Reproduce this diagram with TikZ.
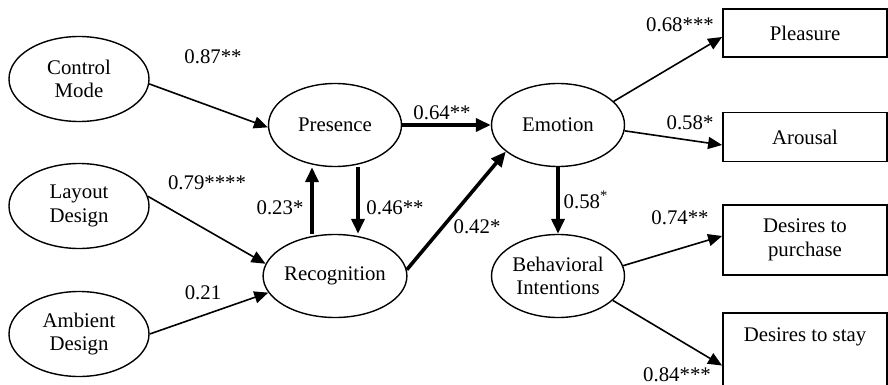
\documentclass[tikz,border=0pt]{standalone}
\usepackage{fontspec}
\setmainfont{Liberation Serif}
\usetikzlibrary{
  arrows.meta,
  shapes.geometric
}

\begin{document}
\begin{tikzpicture}[x=0.5pt, y=-0.5pt,
  font=\fontsize{10.4}{11.7}\selectfont,
  latent/.style={ellipse, draw, line width=0.7pt, inner sep=0pt,
    minimum width=66.5pt, minimum height=41.5pt, align=center},
  cause/.style={latent, minimum width=70pt, minimum height=42.5pt},
  measure/.style={rectangle, draw, line width=0.9pt,
    minimum width=82pt, minimum height=35pt, align=center},
  thinpath/.style={line width=0.8pt, -{Triangle[length=7pt, width=6pt]}},
  thickpath/.style={line width=1.8pt, -{Triangle[length=7.5pt, width=6.5pt]}},
  coef/.style={inner sep=0pt}]
  \useasboundingbox (0,0) rectangle (888,385);

  % Antecedents
  \node[cause] (ctrl) at (79, 79) {Control\\Mode};
  \node[cause] (layout) at (79, 206) {Layout\\Design};
  \node[cause] (ambient) at (79, 334) {Ambient\\Design};

  % Mediators
  \node[latent] (presence) at (335, 125) {Presence};
  \node[latent] (recog) at (335, 276) {Recognition};
  \node[latent] (emotion) at (558, 125) {Emotion};
  \node[latent] (behav) at (558, 276) {Behavioral\\Intentions};

  % Outcome boxes
  \node[measure, minimum height=24pt] (pleasure) at (805, 33) {Pleasure};
  \node[measure, minimum height=24.5pt] (arousal) at (805, 137) {Arousal};
  \node[measure] (purchase) at (805, 240) {Desires to\\purchase};
  \node[measure, anchor=north, text height=11pt, text depth=35pt] (stay) at (805, 312) {Desires to stay};

  % Paths into the mediators
  \draw[thinpath] (ctrl.-4) -- (presence.182);
  \draw[thinpath] (layout.8) -- (recog.170);
  \draw[thinpath] (ambient.east) -- (recog.194);
  \draw[thickpath] ([xshift=-11.5pt]recog.north) -- ([xshift=-11.5pt]presence.south);
  \draw[thickpath] ([xshift=11.5pt]presence.south) -- ([xshift=11.5pt]recog.north);
  \draw[thickpath] (presence.east) -- (emotion.west);
  \draw[thickpath] (recog.5) -- (emotion.207);
  \draw[thickpath] (emotion.south) -- (behav.north);

  % Paths out to the measures
  \draw[thinpath] (emotion.23) -- ([yshift=-2pt]pleasure.west);
  \draw[thinpath] (emotion.-5) -- ([yshift=-4pt]arousal.west);
  \draw[thinpath] (behav.9) -- ([yshift=2pt]purchase.west);
  \draw[thinpath] (behav.-24) -- (stay.west);

  % Coefficients
  \foreach \x/\y/\name/\val in {213/57/cctrl/0.87**, 207/183/clayout/0.79****,
      203/293/cambient/0.21, 280/208/cup/0.23*, 395/208/cdown/0.46**,
      442/113/cpres/0.64**, 477/227/crecog/0.42*,
      586/200/cbehav/0.58\textsuperscript{*},
      680/25/cpleas/0.68***, 690/123/carous/0.58*,
      680/218/cpurch/0.74**, 677/375/cstay/0.84***} {
    \node[coef] (\name) at (\x, \y) {\val};
  }
\end{tikzpicture}
\end{document}
